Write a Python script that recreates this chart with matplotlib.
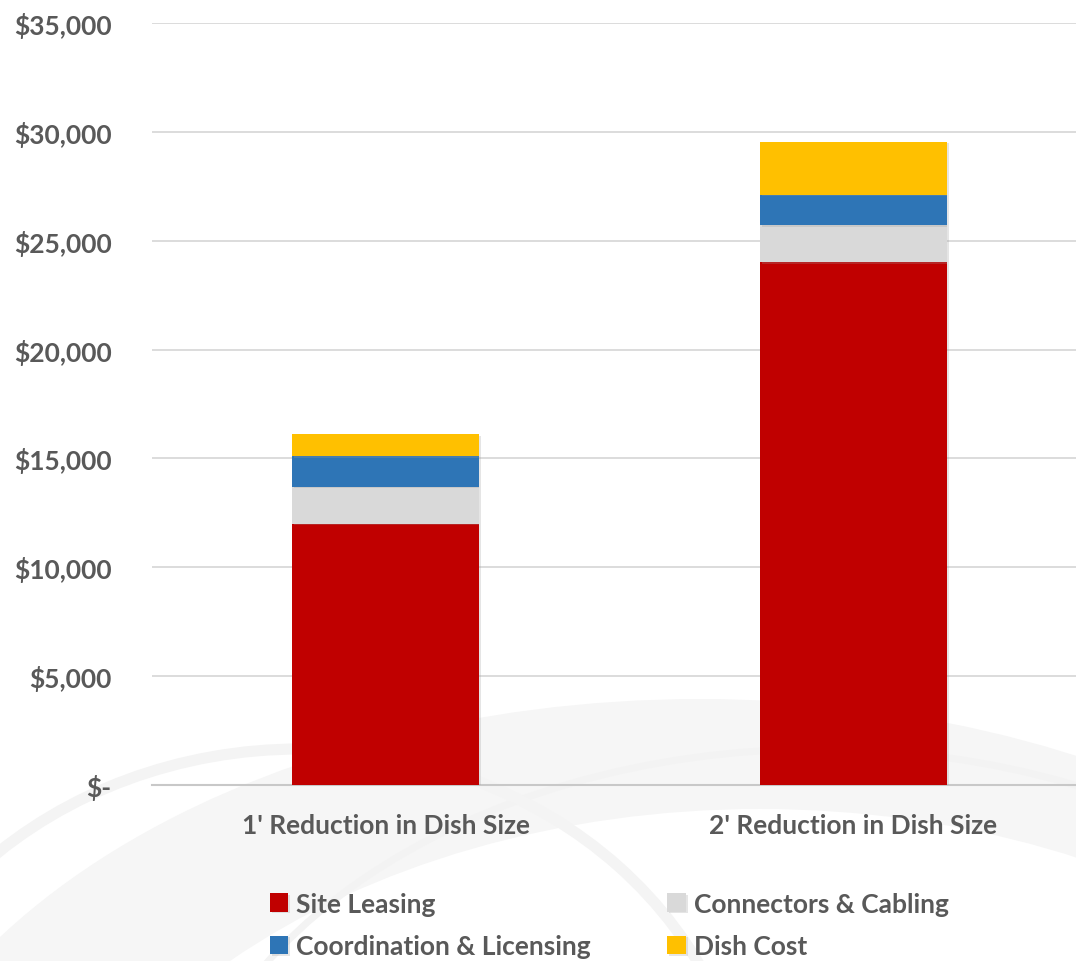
import numpy as np
import matplotlib.pyplot as plt
from matplotlib.patches import Ellipse
from matplotlib.ticker import FuncFormatter
import matplotlib.patheffects as pe

categories = ["1' Reduction in Dish Size", "2' Reduction in Dish Size"]
site_leasing = [12000, 24000]
connectors_cabling = [1700, 1700]
coordination_licensing = [1400, 1400]
dish_cost = [1000, 2450]

series = [
    ("Site Leasing", site_leasing, "#c00000"),
    ("Connectors & Cabling", connectors_cabling, "#d9d9d9"),
    ("Coordination & Licensing", coordination_licensing, "#2e75b6"),
    ("Dish Cost", dish_cost, "#ffc000"),
]

plt.rcParams['font.family'] = ['Lato', 'DejaVu Sans']
text_col = "#595959"

fig = plt.figure(figsize=(10.76, 9.62), dpi=100, facecolor="white")

# faint background swooshes
bg = fig.add_axes([0, 0, 1, 1], zorder=0)
bg.set_xlim(0, 1076)
bg.set_ylim(962, 0)
bg.axis("off")
bg.add_patch(Ellipse((700, 1250), 1700, 1100, facecolor="#f6f6f6", edgecolor="none"))
bg.add_patch(Ellipse((760, 1330), 1500, 1040, facecolor="white", edgecolor="none"))
bg.add_patch(Ellipse((820, 1200), 1300, 900, facecolor="none", edgecolor="#f3f3f3", lw=5))
bg.add_patch(Ellipse((300, 1150), 900, 800, facecolor="none", edgecolor="#f4f4f4", lw=8))

ax = fig.add_axes([152/1076, 1-786/962, (1087-152)/1076, (786-24)/962], zorder=1)
ax.set_facecolor("none")

x = np.arange(len(categories))
bottom = np.zeros(len(categories))
handles = []
for name, vals, col in series:
    b = ax.bar(x, vals, 0.4, bottom=bottom, color=col, label=name, zorder=3,
               path_effects=[pe.SimplePatchShadow(offset=(1.5, -1), shadow_rgbFace="#999999", alpha=0.25), pe.Normal()])
    handles.append(b)
    bottom += np.array(vals)

ax.set_xlim(-0.5, 1.5)
ax.set_ylim(0, 35000)
ax.set_yticks(np.arange(0, 35001, 5000))
ax.yaxis.set_major_formatter(FuncFormatter(lambda v, p: "$-" if v == 0 else "${:,.0f}".format(v)))
ax.set_xticks(x)
ax.set_xticklabels(categories)
ax.grid(axis="y", color="#d9d9d9", lw=1.3, zorder=0)
for s in ["top", "right", "left"]:
    ax.spines[s].set_visible(False)
ax.spines["bottom"].set_color("#c8c8c8")
ax.spines["bottom"].set_linewidth(1.5)
ax.tick_params(length=0, colors=text_col, labelsize=19)
ax.tick_params(axis="y", pad=29)
ax.tick_params(axis="x", pad=20)
for lab in ax.get_xticklabels() + ax.get_yticklabels():
    lab.set_fontweight("bold")
    lab.set_color(text_col)

# row-wise order like the reference
order = [0, 2, 1, 3]
leg = fig.legend([handles[i] for i in order], [series[i][0] for i in order], ncol=2, loc="center",
                 bbox_to_anchor=(609/1076, 1-926/962), frameon=False,
                 handlelength=0.7, handleheight=0.7, handletextpad=0.3,
                 columnspacing=2.9, labelspacing=0.7,
                 prop={"size": 19, "weight": "bold"})
for t in leg.get_texts():
    t.set_color(text_col)

fig.savefig("out.png", dpi=100, facecolor="white")
